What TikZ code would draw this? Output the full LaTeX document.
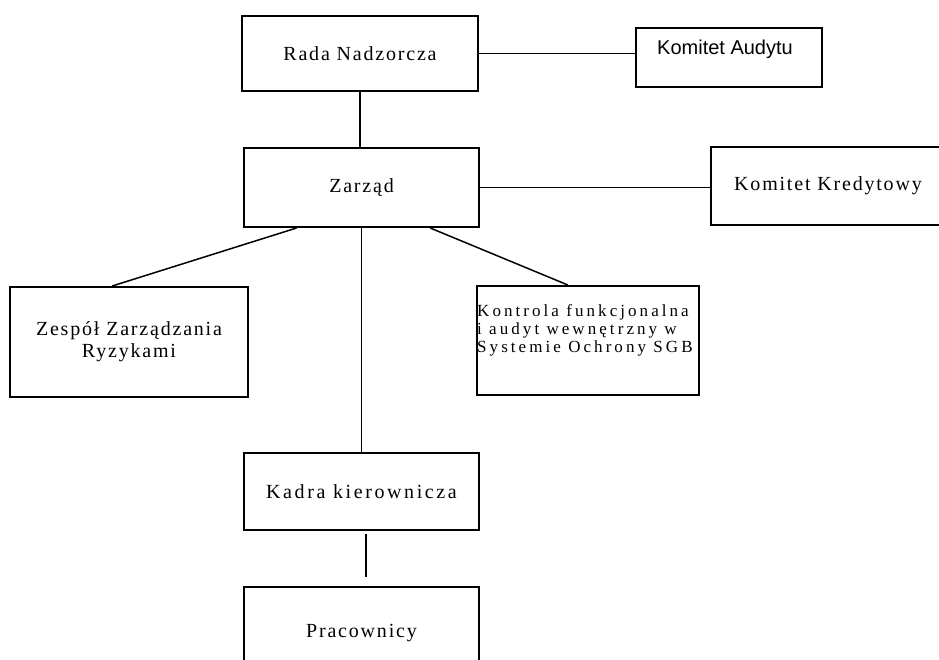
\documentclass[tikz,border=0pt]{standalone}
\usepackage{fontspec}
\setmainfont{Liberation Serif}
\newfontfamily\scanserif{Liberation Serif}[LetterSpace=9]
\newfontfamily\scanserifwide{Liberation Serif}[LetterSpace=18]
\newfontfamily\scankadra{Liberation Serif}[LetterSpace=13]
\newfontfamily\scansans{Liberation Sans}
\usetikzlibrary{calc}
\begin{document}
\begin{tikzpicture}[x=1pt,y=-1pt,
  box/.style={draw, line width=2pt, rectangle, inner sep=0pt,
    font=\scanserif\fontsize{20}{22}\selectfont, align=center},
  link/.style={line width=1.5pt}]
\useasboundingbox (0,0) rectangle (939,660);
\fill[white] (0,0) rectangle (939,660);
\clip (0,0) rectangle (939,660);

\node[box, minimum width=236pt, minimum height=75pt] (rada) at (360,53.5) {Rada Nadzorcza};
\node[box, minimum width=186pt, minimum height=59pt] (audytu) at (729,57.5) {};
\node[font=\scansans\fontsize{20}{24}\selectfont, anchor=base, inner sep=0pt] (audytutxt) at (725,55) {Komitet Audytu};

\node[box, minimum width=235pt, minimum height=79pt] (zarzad) at (361.5,187.5) {Zarząd};
\node[box, minimum width=234pt, minimum height=78pt] (kredyt) at (828,186) {Komitet Kredytowy};

\node[box, minimum width=238pt, minimum height=110pt] (zespol) at (129,342) {Zespół Zarządzania\\Ryzykami};
\node[box, minimum width=222pt, minimum height=109pt] (kontrola) at (588,340.5) {};
\node[anchor=north west, inner sep=0pt, align=left,
  font=\scanserifwide\fontsize{17}{18}\selectfont] (kontrolatxt) at (477,304)
  {Kontrola funkcjonalna\\i audyt wewnętrzny w\\Systemie Ochrony SGB};

\node[box, minimum width=235pt, minimum height=77pt, font=\scankadra\fontsize{20}{22}\selectfont] (kadra) at (361.5,491.5) {Kadra kierownicza};
\node[box, minimum width=235pt, minimum height=92pt] (prac) at (361.5,633) {Pracownicy};

\draw[link] (rada.south) -- (rada.south |- zarzad.north);
\draw[link] (rada.east) -- (rada.east -| audytu.west);
\draw[link] (zarzad.east) -- (zarzad.east -| kredyt.west);
\draw[link] ($(zarzad.south west)!0.226!(zarzad.south east)$) -- ($(zespol.north west)!0.43!(zespol.north east)$);
\draw[link] (zarzad.south) -- (kadra.north);
\draw[link] ($(zarzad.south west)!0.79!(zarzad.south east)$) -- ($(kontrola.north west)!0.41!(kontrola.north east)$);
\draw[link, shorten <=3pt, shorten >=9pt] ($(kadra.south west)!0.52!(kadra.south east)$) -- ($(prac.north west)!0.52!(prac.north east)$);
\end{tikzpicture}
\end{document}
